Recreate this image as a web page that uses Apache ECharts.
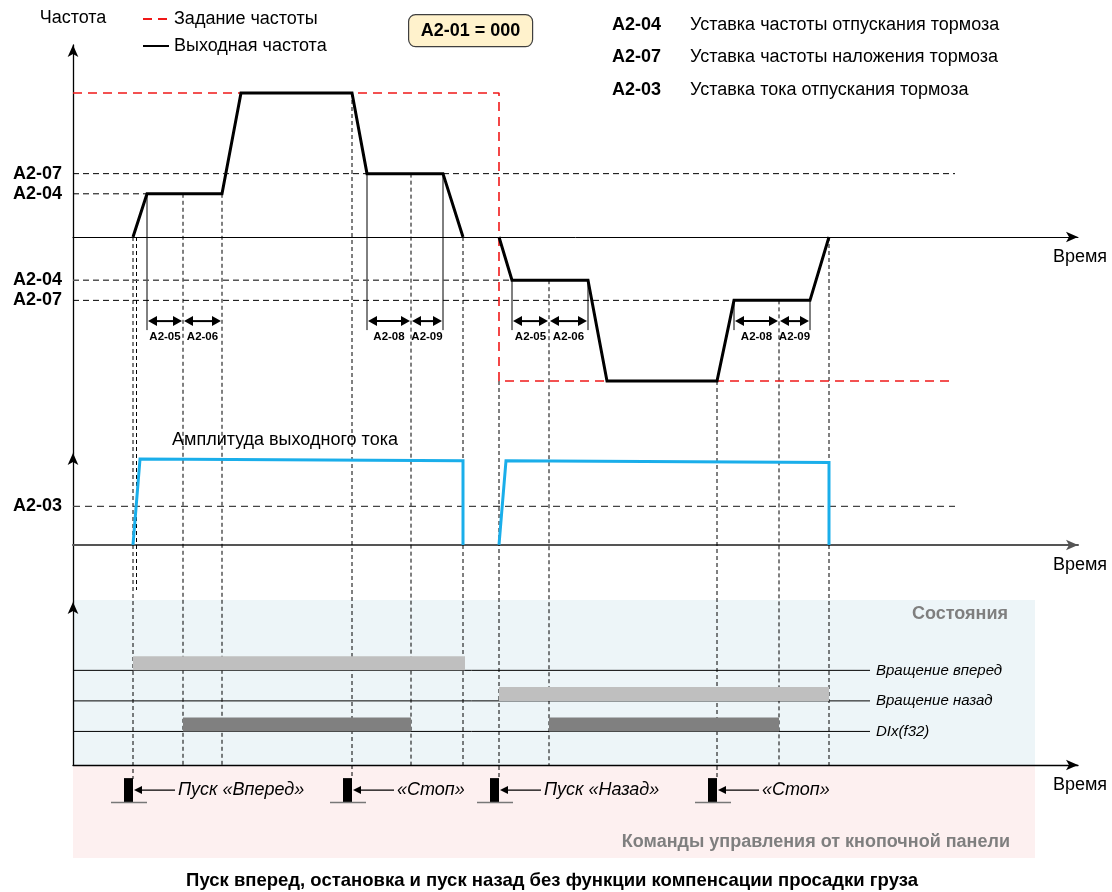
<!DOCTYPE html>
<html><head><meta charset="utf-8">
<script src="https://cdn.jsdelivr.net/npm/echarts@6/dist/echarts.min.js"></script>
<style>html,body{margin:0;padding:0;background:#fff}#c{width:1112px;height:892px}</style>
</head><body><div id="c"></div>
<script>
// ---------------- DATA ----------------
// time in arbitrary units, frequency in % of setpoint, current in % of amplitude
const setpointFreq  = [[0,50],[42.6,50],[42.6,-50],[88.2,-50]];
const outputFreqFwd = [[6.0,0],[7.4,15],[14.9,15],[16.8,50],[27.9,50],[29.4,22],[37.0,22],[39.0,0]];
const outputFreqRev = [[42.6,0],[43.9,-15],[51.5,-15],[53.4,-50],[64.4,-50],[66.1,-22],[73.7,-22],[75.6,0]];
const currentFwd = [[6.0,0],[6.7,100],[39.0,98],[39.0,0]];
const currentRev = [[42.6,0],[43.3,98],[75.6,96],[75.6,0]];
const freqTickValues = [22, 15, -15, -22];
const freqTickLabels = ['A2-07', 'A2-04', 'A2-04', 'A2-07'];
const freqRefLines = [[22, 88.2], [15, 7.4], [-15, 43.9], [-22, 66.1]];   // [level, end time]
const currentTickValues = [45];
const currentTickLabels = ['A2-03'];
const currentRefLine = [45, 88.2];
const guideLines = [[6.0,0],[6.35,0],[11.0,15],[14.9,15],[27.9,50],[33.8,22],[39.0,0],[42.6,-50],[47.6,-15],[64.4,-50],[70.6,-22],[75.6,0]];
const guideKinds = ['cmd','cur','st','st','cmd','st','st','cmd','st','cmd','st','st'];
const extLines = [[7.4,15],[29.4,22],[37.0,22],[43.9,-15],[51.5,-15],[66.1,-22],[73.7,-22]];
const dimSpans = [[7.4,11.0],[11.0,14.9],[29.4,33.8],[33.8,37.0],[43.9,47.6],[47.6,51.5],[66.1,70.6],[70.6,73.7]];
const dimLabels = ['A2-05','A2-06','A2-08','A2-09','A2-05','A2-06','A2-08','A2-09'];
const stateRows = ['DIx(f32)', 'Вращение назад', 'Вращение вперед'];   // rows 1..3
const stateRowEnd = 79.7;
const stateBars = [[6.0,39.2,3,0],[42.6,75.6,2,0],[11.0,33.8,1,1],[47.6,70.6,1,1]]; // [start,end,row,shade]
const commandTimes = [6.0, 27.9, 42.6, 64.4];
const commandLabels = ['Пуск «Вперед»', '«Стоп»', 'Пуск «Назад»', '«Стоп»'];
const paramCodes = ['A2-04', 'A2-07', 'A2-03'];
const paramDescs = ['Уставка частоты отпускания тормоза', 'Уставка частоты наложения тормоза', 'Уставка тока отпускания тормоза'];

// ---------------- CHART ----------------
const FONT = 'Liberation Sans, Arial, sans-serif';
const chart = echarts.init(document.getElementById('c'), null, {renderer: 'canvas'});
const arrowAxis = (color, width) => ({show: true, onZero: true, symbol: ['none', 'arrow'], symbolSize: [8, 12], lineStyle: {color, width}});
const timeName = {name: 'Время', nameLocation: 'end', nameGap: 2,
  nameTextStyle: {fontSize: 18, color: '#000', align: 'center', verticalAlign: 'top', padding: [11, 0, 0, 0]}};
const hiddenParts = {axisTick: {show: false}, splitLine: {show: false}};
const DIM_LEVEL = -29.2;

const grids = [
  {left: 73, right: 34, top: 45, height: 408},
  {left: 73, right: 34, top: 453, height: 149},
  {left: 73, right: 34, top: 602, height: 163},
  {left: 73, right: 34, top: 765, height: 93}
];
grids.forEach(g => { g.outerBoundsMode = 'none'; g.containLabel = false; });

const xAxes = [
  Object.assign({gridIndex: 0, type: 'value', min: 0, max: 100.5, axisLine: arrowAxis('#000', 1), axisLabel: {show: false}}, hiddenParts, timeName),
  Object.assign({gridIndex: 1, type: 'value', min: 0, max: 100.5, axisLine: arrowAxis('#555', 2), axisLabel: {show: false}}, hiddenParts, timeName),
  Object.assign({gridIndex: 2, type: 'value', min: 0, max: 100.5, position: 'bottom', axisLine: Object.assign(arrowAxis('#000', 1.3), {onZero: false}), axisLabel: {show: false}}, hiddenParts, timeName),
  Object.assign({gridIndex: 3, type: 'value', min: 0, max: 100.5, show: false}, hiddenParts)
];
const labelStyle = {fontWeight: 'bold', fontSize: 18, color: '#000', margin: 11, fontFamily: FONT};
const yAxes = [
  Object.assign({gridIndex: 0, type: 'value', min: -75, max: 66.67, axisLine: arrowAxis('#000', 1.3),
    axisLabel: Object.assign({customValues: freqTickValues, formatter: v => freqTickLabels[freqTickValues.indexOf(v)]}, labelStyle),
    name: 'Частота', nameLocation: 'end', nameGap: 27, nameTextStyle: {fontSize: 18, color: '#000', verticalAlign: 'middle', align: 'center'}}, hiddenParts),
  Object.assign({gridIndex: 1, type: 'value', min: -66.3, max: 107, axisLine: arrowAxis('#000', 1.3),
    axisLabel: Object.assign({customValues: currentTickValues, formatter: v => currentTickLabels[currentTickValues.indexOf(v)]}, labelStyle)}, hiddenParts),
  Object.assign({gridIndex: 2, type: 'value', min: -0.1, max: 5.24, axisLine: arrowAxis('#000', 1.3), axisLabel: {show: false}}, hiddenParts),
  Object.assign({gridIndex: 3, type: 'value', min: 0, max: 1, show: false}, hiddenParts)
];

const series = [];
// vertical time guides (span several panels)
series.push({type: 'custom', xAxisIndex: 0, yAxisIndex: 0, z: 1, data: guideLines,
  renderItem: (params, api) => {
    const p = api.coord([api.value(0), api.value(1)]);
    const k = guideKinds[params.dataIndex];
    const bottom = k === 'cmd' ? 779 : (k === 'cur' ? 590 : 765);
    return {type: 'line', shape: {x1: p[0], y1: p[1], x2: p[0], y2: bottom},
      style: {stroke: '#000', lineWidth: 1, lineDash: [4, 3]}};
  }});
// solid extension lines for dimension arrows
series.push({type: 'custom', xAxisIndex: 0, yAxisIndex: 0, z: 1, data: extLines,
  renderItem: (params, api) => {
    const p = api.coord([api.value(0), api.value(1)]);
    const q = api.coord([api.value(0), DIM_LEVEL]);
    return {type: 'line', shape: {x1: p[0], y1: p[1], x2: p[0], y2: q[1] + 9}, style: {stroke: '#000', lineWidth: 1}};
  }});
// reference dashed lines (frequency)
freqRefLines.forEach(([lvl, tEnd], i) => {
  series.push({type: 'line', xAxisIndex: 0, yAxisIndex: 0, symbol: 'none', silent: true, z: 1,
    data: [[0, lvl], [tEnd, lvl]],
    lineStyle: {color: i === 2 ? '#555' : '#000', width: i === 2 ? 1.6 : 1, type: [6, 4]}});
});
// reference dashed line (current)
series.push({type: 'line', xAxisIndex: 1, yAxisIndex: 1, symbol: 'none', silent: true, z: 1,
  data: [[0, currentRefLine[0]], [currentRefLine[1], currentRefLine[0]]],
  lineStyle: {color: '#444', width: 1.3, type: [7, 5]}});
// setpoint
series.push({name: 'Задание частоты', type: 'line', xAxisIndex: 0, yAxisIndex: 0, symbol: 'none', z: 3,
  data: setpointFreq, itemStyle: {color: '#f01818'}, lineStyle: {color: '#f01818', width: 1.6, type: [9, 6]}});
// output frequency
[outputFreqFwd, outputFreqRev].forEach(d => series.push({name: 'Выходная частота', type: 'line', xAxisIndex: 0, yAxisIndex: 0,
  symbol: 'none', z: 4, data: d, itemStyle: {color: '#000'}, lineStyle: {color: '#000', width: 3, join: 'miter'}}));
// dimension arrows
series.push({type: 'custom', xAxisIndex: 0, yAxisIndex: 0, z: 5, data: dimSpans,
  renderItem: (params, api) => {
    const a = api.coord([api.value(0), DIM_LEVEL]);
    const b = api.coord([api.value(1), DIM_LEVEL]);
    const y = a[1], x1 = a[0] + 1, x2 = b[0] - 1;
    return {type: 'group', children: [
      {type: 'line', shape: {x1: x1 + 4, y1: y, x2: x2 - 4, y2: y}, style: {stroke: '#000', lineWidth: 2}},
      {type: 'polygon', shape: {points: [[x1, y], [x1 + 9, y - 5], [x1 + 9, y + 5]]}, style: {fill: '#000'}},
      {type: 'polygon', shape: {points: [[x2, y], [x2 - 9, y - 5], [x2 - 9, y + 5]]}, style: {fill: '#000'}},
      {type: 'text', style: {text: dimLabels[params.dataIndex], x: (x1 + x2) / 2, y: y + 16, align: 'center', verticalAlign: 'middle',
        font: 'bold 11.5px ' + FONT, fill: '#000'}}
    ]};
  }});
// current
[currentFwd, currentRev].forEach(d => series.push({type: 'line', xAxisIndex: 1, yAxisIndex: 1, symbol: 'none', z: 4,
  data: d, lineStyle: {color: '#1aaeea', width: 3, join: 'miter'}}));
// state row lines with labels
stateRows.forEach((nm, i) => series.push({name: nm, type: 'line', xAxisIndex: 2, yAxisIndex: 2, symbol: 'none', z: 2,
  data: [[0, i + 1], [stateRowEnd, i + 1]], lineStyle: {color: '#000', width: 1},
  endLabel: {show: true, formatter: nm, fontStyle: 'italic', fontSize: 15, color: '#000', distance: 6, fontFamily: FONT}}));
// state bars
series.push({type: 'custom', xAxisIndex: 2, yAxisIndex: 2, z: 3, data: stateBars,
  renderItem: (params, api) => {
    const a = api.coord([api.value(0), api.value(2)]);
    const b = api.coord([api.value(1), api.value(2)]);
    return {type: 'rect', shape: {x: a[0], y: a[1] - 14, width: b[0] - a[0], height: 14},
      style: {fill: api.value(3) ? '#808080' : '#bfbfbf'}};
  }});
// command buttons
series.push({type: 'custom', xAxisIndex: 3, yAxisIndex: 3, z: 3, data: commandTimes.map(t => [t, 0.73]),
  renderItem: (params, api) => {
    const p = api.coord([api.value(0), api.value(1)]);
    const x = p[0], y = p[1];
    return {type: 'group', children: [
      {type: 'rect', shape: {x: x - 9, y: y - 12, width: 9, height: 24}, style: {fill: '#000'}},
      {type: 'line', shape: {x1: x - 22, y1: y + 12.5, x2: x + 14, y2: y + 12.5}, style: {stroke: '#777', lineWidth: 1.5}},
      {type: 'line', shape: {x1: x + 6, y1: y, x2: x + 42, y2: y}, style: {stroke: '#000', lineWidth: 1.3}},
      {type: 'polygon', shape: {points: [[x + 1, y], [x + 9, y - 4], [x + 9, y + 4]]}, style: {fill: '#000'}},
      {type: 'text', style: {text: commandLabels[params.dataIndex], x: x + 45, y: y, align: 'left', verticalAlign: 'middle',
        font: 'italic 18px ' + FONT, fill: '#000'}}
    ]};
  }});

const graphic = [
  {type: 'rect', z: -10, shape: {x: 73, y: 600, width: 962, height: 165}, style: {fill: '#edf5f8'}},
  {type: 'rect', z: -10, shape: {x: 73, y: 765, width: 962, height: 93}, style: {fill: '#fdf0f0'}},
  {type: 'text', left: 172, top: 431, style: {text: 'Амплитуда выходного тока', font: '18px ' + FONT, fill: '#000'}},
  {type: 'text', right: 104, top: 605, style: {text: 'Состояния', font: 'bold 18px ' + FONT, fill: '#7f7f7f'}},
  {type: 'text', right: 102, top: 833, style: {text: 'Команды управления от кнопочной панели', font: 'bold 18px ' + FONT, fill: '#7f7f7f'}},
  {type: 'group', left: 408, top: 14, children: [
    {type: 'rect', shape: {x: 0, y: 0, width: 124, height: 32, r: 7}, style: {fill: '#fff2cc', stroke: '#3f3f3f', lineWidth: 1.2}},
    {type: 'text', style: {text: 'A2-01 = 000', x: 62, y: 16.5, align: 'center', verticalAlign: 'middle', font: 'bold 18px ' + FONT, fill: '#000'}}
  ]}
];
paramCodes.forEach((c, i) => {
  graphic.push({type: 'text', left: 612, top: 16 + i * 32.5, style: {text: c, font: 'bold 18px ' + FONT, fill: '#000'}});
  graphic.push({type: 'text', left: 690, top: 16 + i * 32.5, style: {text: paramDescs[i], font: '18px ' + FONT, fill: '#000'}});
});

chart.setOption({
  animation: false,
  backgroundColor: '#fff',
  textStyle: {fontFamily: FONT},
  title: {text: 'Пуск вперед, остановка и пуск назад без функции компенсации просадки груза', left: 547, textAlign: 'center', top: 866,
    textStyle: {fontSize: 18.5, fontWeight: 'bold', color: '#000', fontFamily: FONT}},
  legend: {data: ['Задание частоты', 'Выходная частота'], orient: 'vertical', left: 137, top: 5, itemWidth: 26, itemHeight: 14,
    itemGap: 9, selectedMode: false, itemStyle: {opacity: 0}, textStyle: {fontSize: 18, color: '#000', fontFamily: FONT}},
  grid: grids, xAxis: xAxes, yAxis: yAxes, series, graphic
});
</script></body></html>
